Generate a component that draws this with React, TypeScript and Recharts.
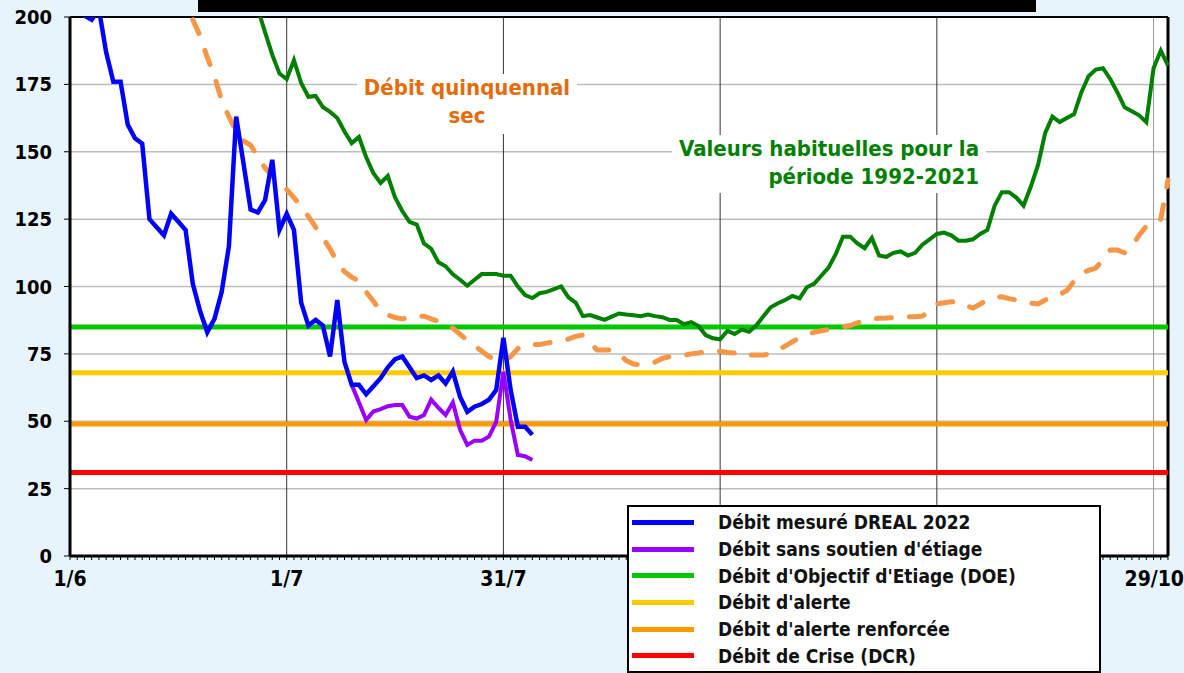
import React from 'react';
import { LineChart, Line, XAxis, YAxis, CartesianGrid, ReferenceLine } from 'recharts';

const FONT = "'DejaVu Sans Condensed', 'DejaVu Sans', sans-serif";

// day 0 = 1/6, day 152 = 31/10
const DAY_COUNT = 153;
// 30/8 and 29/9 sit under the legend box in the original, so only these show
const xLabels: Record<number, string> = { 0: '1/6', 30: '1/7', 60: '31/7', 150: '29/10' };
const monthLines = [30, 60, 90, 120, 150];
const yTicks = [0, 25, 50, 75, 100, 125, 150, 175, 200];

// Débit mesuré DREAL 2022
const measuredStart = 0;
const measured = [
  212, 206, 200.5, 199, 203, 187, 176, 176, 160, 155, 153, 125, 122, 119, 127, 124, 121, 101, 91, 83,
  88, 98, 115, 163, 146, 128.5, 127.5, 132, 147, 121, 127, 121, 94, 85.5, 87.6, 85.5, 74, 95, 72, 63.5,
  63.5, 60, 63, 66, 70, 73, 74, 70, 66, 67, 65.3, 67, 64, 68.4, 59, 53.5, 55.4, 56.4, 58, 61.6,
  81, 61.6, 48, 48, 45,
];

// Débit sans soutien d'étiage
const unsupportedStart = 39;
const unsupported = [
  63.5, 57, 50.5, 53.6, 54.5, 55.6, 56, 56, 51.7, 51, 52.3, 58, 55, 52.3, 57, 46.8, 41.2, 42.8, 42.8, 44.3,
  49.8, 68.4, 50.5, 37.5, 37, 35.6,
];

// Valeurs habituelles 1992-2021
const usualStart = 26;
const usual = [
  203, 194.4, 186, 179, 177, 184, 175.5, 170.4, 170.7, 166.6, 164.8, 162.5, 157.5, 153.2, 155.5, 148, 142, 138.4, 141, 133,
  128, 124, 123, 116, 114, 109, 107.5, 104.5, 102.5, 100.3, 102.5, 104.6, 104.6, 104.6, 104, 104, 100, 96.8, 95.7, 97.5,
  98, 99, 100, 96, 94, 89, 89.4, 88.5, 87.6, 88.8, 90, 89.6, 89.3, 89, 89.6, 89, 88.6, 87.6, 87.6, 86,
  86.8, 85.3, 82, 80.8, 80.4, 83.5, 82.4, 84, 83.2, 85.5, 89, 92.3, 93.8, 95, 96.5, 95.6, 99.7, 101, 104, 107,
  112, 118.5, 118.5, 116, 114.2, 118, 111.5, 111, 112.5, 113, 111.5, 112.5, 115.5, 117.5, 119.5, 120, 119, 117, 117, 117.5,
  119.5, 121, 130, 135, 135, 133, 130, 137, 145, 157, 163, 161, 162.5, 164, 172, 178, 180.5, 181, 177, 172,
  166.5, 165, 163.5, 161, 181, 187.5, 182,
];

// Débit quinquennal sec
const dryStart = 17;
const dry = [
  199, 193, 185, 178, 169, 163, 157.5, 154, 152.5, 148, 144, 141, 138.5, 136, 133, 129.5, 126, 122, 118, 114,
  109, 105.5, 103.5, 102, 98, 94.5, 91, 89.4, 88.5, 88, 88.5, 89, 89, 88, 87, 86, 84.5, 82.3, 80, 78,
  76, 74, 72.7, 72.5, 74, 77, 78.3, 78.5, 78.5, 79, 79.5, 80, 80.5, 81.5, 82, 79, 76.4, 76.4, 76.4, 75,
  72.5, 71.2, 71, 71, 72, 73.3, 74, 74.2, 74.5, 75, 75.3, 75.8, 76, 76, 75.5, 75.3, 75.8, 74.6, 74.6, 74.6,
  75, 76.4, 77.9, 79.5, 81, 82.2, 83, 83.6, 84, 84.6, 85.1, 85.5, 86.5, 87.5, 88, 88.2, 88.3, 88.5, 88.8, 88.8,
  88.8, 89, 91, 93.5, 94, 94.3, 94.4, 93, 92, 93.5, 95, 96, 96.2, 95.5, 95, 94.5, 93.8, 93.5, 95, 96.2,
  97, 98.5, 102, 105, 106, 106.8, 110, 113.5, 113.5, 112.5, 115, 119, 122.4, 122.8, 125, 139.5,
];

// seuils réglementaires
const thresholdValues = { doe: 85, alerte: 68, renforcee: 49, crise: 31 };

const legendLabels = [
  'Débit mesuré DREAL 2022',
  "Débit sans soutien d'étiage",
  "Débit d'Objectif d'Etiage (DOE)",
  "Débit d'alerte",
  "Débit d'alerte renforcée",
  'Débit de Crise (DCR)',
];
const legendColors = ['#0000ff', '#9900ff', '#00c800', '#ffcc00', '#ff9900', '#ff0000'];

const pick = (arr: number[], start: number, day: number) => {
  const i = day - start;
  return i >= 0 && i < arr.length ? arr[i] : null;
};

const data = Array.from({ length: DAY_COUNT }, (_, day) => ({
  day,
  measured: pick(measured, measuredStart, day),
  unsupported: pick(unsupported, unsupportedStart, day),
  usual: pick(usual, usualStart, day),
  dry: pick(dry, dryStart, day),
}));

const dayTicks = data.map((d) => d.day);

const XTick = (props: any) => {
  const { x, y, payload } = props;
  const label = xLabels[payload.value];
  if (!label) return <g />;
  const last = payload.value === 150;
  return (
    <text
      x={last ? 1184 : x}
      y={y}
      dy={20}
      textAnchor={last ? 'end' : 'middle'}
      fontSize={21}
      fontWeight="bold"
      fontFamily={FONT}
      fill="#000"
    >
      {label}
    </text>
  );
};

const App: React.FC = () => {
  return (
    <div
      style={{
        position: 'absolute',
        left: 0,
        top: 0,
        width: 1184,
        height: 673,
        background: '#e8f4fc',
        fontFamily: FONT,
        overflow: 'hidden',
      }}
    >
      <LineChart width={1184} height={673} data={data} margin={{ top: 17, right: 16, bottom: 77, left: 10 }}>
        <CartesianGrid vertical={false} stroke="#bdbdbd" strokeWidth={1.5} fill="#ffffff" />
        {monthLines.map((d) => (
          <ReferenceLine key={d} x={d} stroke={d === 150 ? '#9a9a9a' : '#333333'} strokeWidth={1} />
        ))}
        <XAxis
          dataKey="day"
          type="number"
          domain={[0, 152]}
          ticks={dayTicks}
          interval={0}
          tick={<XTick />}
          tickSize={4}
          tickMargin={6}
          height={40}
          axisLine={{ stroke: '#000', strokeWidth: 3 }}
          tickLine={{ stroke: '#000' }}
        />
        <YAxis
          domain={[0, 200]}
          ticks={yTicks}
          allowDataOverflow
          width={60}
          tickSize={6}
          tickMargin={12}
          axisLine={{ stroke: '#000', strokeWidth: 3 }}
          tickLine={{ stroke: '#000' }}
          tick={{ fontSize: 20, fontWeight: 'bold', fill: '#000', fontFamily: FONT }}
        />
        <ReferenceLine y={200} stroke="#000" strokeWidth={2} />
        <ReferenceLine x={152} stroke="#000" strokeWidth={3} />
        <ReferenceLine y={thresholdValues.doe} stroke="#00c800" strokeWidth={5} />
        <ReferenceLine y={thresholdValues.alerte} stroke="#ffcc00" strokeWidth={5} />
        <ReferenceLine y={thresholdValues.renforcee} stroke="#ff9900" strokeWidth={5} />
        <ReferenceLine y={thresholdValues.crise} stroke="#ff0000" strokeWidth={5} />
        <Line
          type="linear"
          dataKey="dry"
          stroke="#f79646"
          strokeWidth={5}
          strokeDasharray="15 18"
          strokeLinecap="round"
          dot={false}
          isAnimationActive={false}
        />
        <Line type="linear" dataKey="usual" stroke="#008000" strokeWidth={4} dot={false} isAnimationActive={false} />
        <Line type="linear" dataKey="unsupported" stroke="#9900ff" strokeWidth={4} dot={false} isAnimationActive={false} />
        <Line type="linear" dataKey="measured" stroke="#0000ff" strokeWidth={4.5} dot={false} isAnimationActive={false} />
      </LineChart>

      {/* bandeau titre masqué */}
      <div style={{ position: 'absolute', left: 198, top: 0, width: 838, height: 12, background: '#000' }} />

      <div
        style={{
          position: 'absolute',
          left: 357,
          top: 74,
          width: 220,
          height: 60,
          background: '#fff',
          color: '#e46c0a',
          fontWeight: 'bold',
          fontSize: 22,
          lineHeight: '28px',
          textAlign: 'center',
        }}
      >
        Débit quinquennal
        <br />
        sec
      </div>

      <div
        style={{
          position: 'absolute',
          left: 672,
          top: 135,
          width: 314,
          height: 58,
          background: '#fff',
          color: '#008000',
          fontWeight: 'bold',
          fontSize: 22,
          lineHeight: '28px',
          textAlign: 'right',
          paddingRight: 7,
          boxSizing: 'border-box',
        }}
      >
        Valeurs habituelles pour la
        <br />
        période 1992-2021
      </div>

      <div
        style={{
          position: 'absolute',
          left: 627,
          top: 505,
          width: 474,
          height: 168,
          background: '#fff',
          border: '2px solid #000',
          boxSizing: 'border-box',
          paddingTop: 2,
        }}
      >
        {legendLabels.map((label, i) => (
          <div key={label} style={{ display: 'flex', alignItems: 'center', height: 26.7 }}>
            <div style={{ width: 62, height: 5, background: legendColors[i], marginLeft: 3 }} />
            <span style={{ marginLeft: 24, fontSize: 19, fontWeight: 'bold', color: '#111' }}>{label}</span>
          </div>
        ))}
      </div>
    </div>
  );
};

export default App;
